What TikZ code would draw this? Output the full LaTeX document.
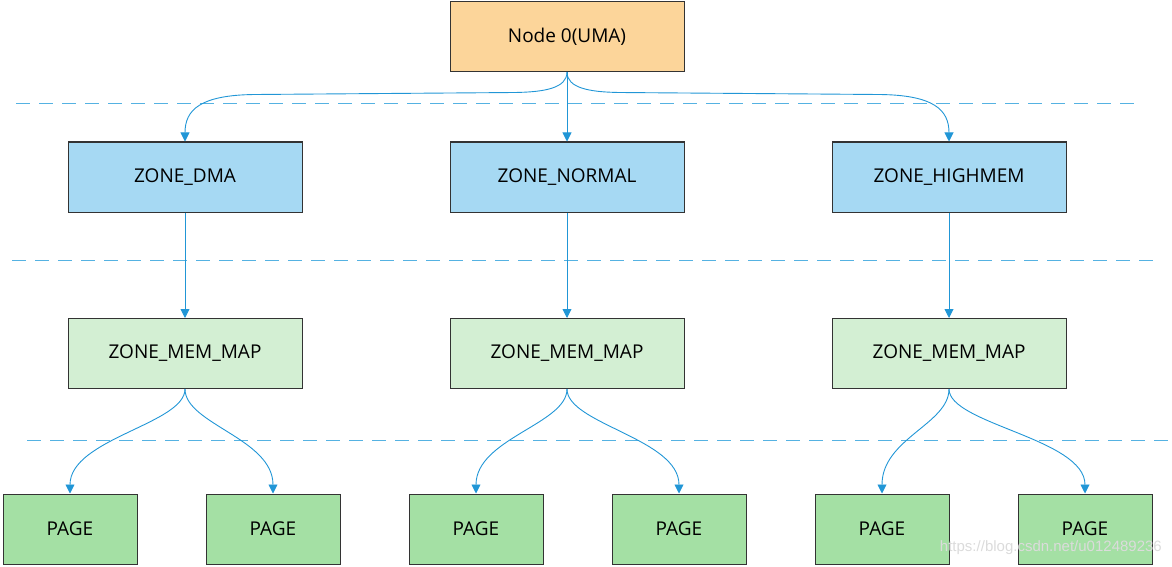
\documentclass[tikz,border=0pt]{standalone}
\usepackage{fontspec}
\setmainfont{Open Sans}
\newfontfamily\wmfont{Liberation Sans}
\usetikzlibrary{arrows.meta}
\definecolor{topfill}{HTML}{FCD59A}
\definecolor{zonefill}{HTML}{A6D9F3}
\definecolor{mapfill}{HTML}{D3EFD3}
\definecolor{pagefill}{HTML}{A4E0A4}
\definecolor{arrowc}{HTML}{2196D6}
\definecolor{dashc}{HTML}{55B2E2}
\definecolor{edgec}{HTML}{333333}
\begin{document}
\begin{tikzpicture}[x=1pt,y=-1pt,
  box/.style={draw=edgec, line width=1pt, minimum width=234pt, minimum height=70pt, inner sep=0pt, font=\fontsize{19}{22}\selectfont},
  pagebox/.style={box, minimum width=134pt, fill=pagefill},
  conn/.style={draw=arrowc, line width=0.9pt, -{Triangle[length=9pt,width=9pt]}},
  sep/.style={draw=dashc, line width=1pt, dash pattern=on 14pt off 9pt}]
\useasboundingbox (0,0) rectangle (1172,567);
% separators
\draw[sep] (16,104) -- (1140,104);
\draw[sep] (12,260) -- (1155,260);
\draw[sep] (27,440) -- (1168,440);
% nodes
\node[box, fill=topfill] (n0) at (567,36.5) {Node 0(UMA)};
\node[box, fill=zonefill] (zd) at (185,177) {ZONE\_DMA};
\node[box, fill=zonefill] (zn) at (567,177) {ZONE\_NORMAL};
\node[box, fill=zonefill] (zh) at (949,177) {ZONE\_HIGHMEM};
\node[box, fill=mapfill] (md) at (185,353.5) {ZONE\_MEM\_MAP};
\node[box, fill=mapfill] (mn) at (567,353.5) {ZONE\_MEM\_MAP};
\node[box, fill=mapfill] (mh) at (949,353.5) {ZONE\_MEM\_MAP};
\node[pagebox] (p1) at (70,529) {PAGE};
\node[pagebox] (p2) at (273,529) {PAGE};
\node[pagebox] (p3) at (476,529) {PAGE};
\node[pagebox] (p4) at (679,529) {PAGE};
\node[pagebox] (p5) at (882,529) {PAGE};
\node[pagebox] (p6) at (1085,529) {PAGE};
% top connectors
\draw[conn] (n0.south) .. controls (567,88) and (545,92) .. (515,92.5)
  -- (255,94.5) .. controls (200,95) and (185,110) .. (zd.north);
\draw[conn] (n0.south) -- (zn.north);
\draw[conn] (n0.south) .. controls (567,88) and (589,92) .. (619,92.5)
  -- (879,94.5) .. controls (934,95) and (949,110) .. (zh.north);
% zone to map
\draw[conn] (zd.south) -- (md.north);
\draw[conn] (zn.south) -- (mn.north);
\draw[conn] (zh.south) -- (mh.north);
% map to pages
\foreach \m/\a/\b in {md/p1/p2, mn/p3/p4, mh/p5/p6}{
  \draw[conn] (\m.south) .. controls ++(0,35) and ++(0,-55) .. (\a.north);
  \draw[conn] (\m.south) .. controls ++(0,35) and ++(0,-55) .. (\b.north);
}
% watermark
\node[font=\wmfont\fontsize{15}{18}\selectfont, text=gray!28, anchor=east, inner sep=0pt] (wm) at (1162,548) {https://blog.csdn.net/u012489236};
\end{tikzpicture}
\end{document}
